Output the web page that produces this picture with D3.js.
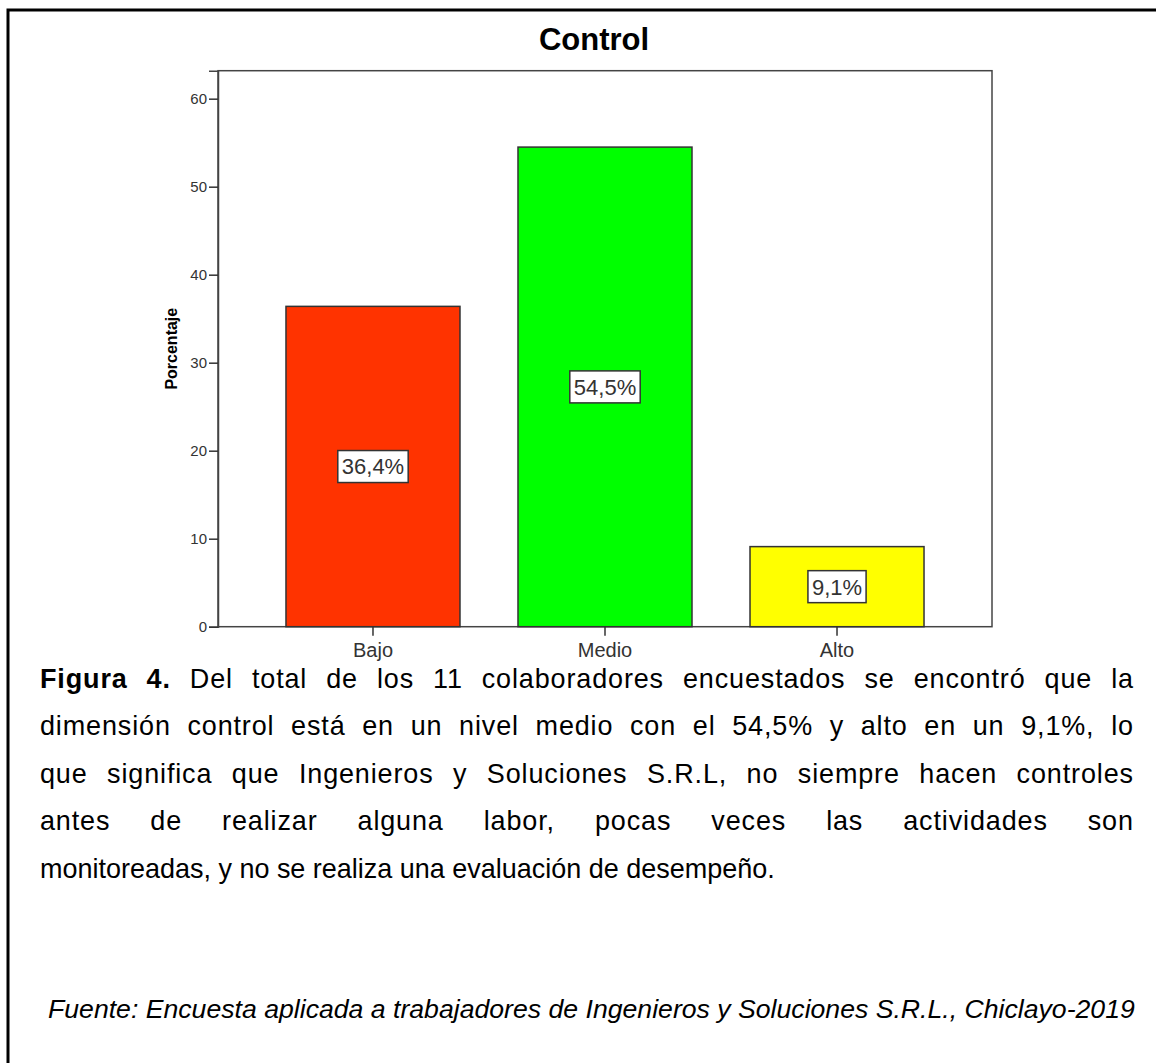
<!DOCTYPE html>
<html><head><meta charset="utf-8">
<script src="https://cdn.jsdelivr.net/npm/d3@7"></script>
<style>
html,body{margin:0;padding:0;background:#fff;}
svg{display:block;}
text{font-family:"Liberation Sans",Arial,sans-serif;}
</style></head>
<body>
<script>
const categories = ["Bajo", "Medio", "Alto"];
const values = [36.4, 54.5, 9.1];
const valueLabels = ["36,4%", "54,5%", "9,1%"];
const barColors = ["#FF3300", "#00FF00", "#FFFF00"];
const yTicks = [0, 10, 20, 30, 40, 50, 60];
const chartTitle = "Control";
const yTitle = "Porcentaje";
const captionLines = [
  [{b:true,t:"Figura 4."},{b:false,t:" Del total de los 11 colaboradores encuestados se encontró que la"}],
  [{b:false,t:"dimensión control está en un nivel medio con el 54,5% y alto en un 9,1%, lo"}],
  [{b:false,t:"que significa que Ingenieros y Soluciones S.R.L, no siempre hacen controles"}],
  [{b:false,t:"antes de realizar alguna labor, pocas veces las actividades son"}],
  [{b:false,t:"monitoreadas, y no se realiza una evaluación de desempeño."}]
];
const sourceText = "Fuente: Encuesta aplicada a trabajadores de Ingenieros y Soluciones S.R.L., Chiclayo-2019";

const W = 1156, H = 1063;
const svg = d3.select("body").append("svg").attr("width", W).attr("height", H);

// outer page border (top + left visible)
svg.append("path").attr("d", "M8,1063 L8,10 L1160,10")
  .attr("fill", "none").attr("stroke", "#000").attr("stroke-width", 3);

const plot = {l: 218, r: 992, t: 70.7, b: 626.7};
const x = d3.scaleBand().domain(categories).range([plot.l, plot.r])
  .paddingInner(0.25).paddingOuter(0.293);
const y = d3.scaleLinear().domain([0, 63.18]).range([plot.b, plot.t]);

// frame
svg.append("rect").attr("x", plot.l).attr("y", plot.t)
  .attr("width", plot.r - plot.l).attr("height", plot.b - plot.t)
  .attr("fill", "none").attr("stroke", "#444").attr("stroke-width", 1.5);

// bars
svg.append("g").selectAll("rect").data(values).join("rect")
  .attr("x", (d, i) => x(categories[i]))
  .attr("y", d => y(d))
  .attr("width", x.bandwidth())
  .attr("height", d => y(0) - y(d))
  .attr("fill", (d, i) => barColors[i])
  .attr("stroke", "#333").attr("stroke-width", 1.5);

// y axis
const yAxis = svg.append("g").attr("transform", `translate(${plot.l},0)`)
  .call(d3.axisLeft(y).tickValues(yTicks).tickSize(9).tickPadding(2).tickFormat(d3.format("d")));
yAxis.select(".domain").attr("stroke", "#444").attr("stroke-width", 1.5);
yAxis.selectAll(".tick line").attr("stroke", "#333").attr("stroke-width", 1.5);
yAxis.selectAll(".tick text").attr("font-size", 15).attr("fill", "#333")
  .attr("font-family", "'Liberation Sans', Arial, sans-serif");

// x axis
const xAxis = svg.append("g").attr("transform", `translate(0,${plot.b})`)
  .call(d3.axisBottom(x).tickSize(9).tickPadding(7));
xAxis.select(".domain").remove();
xAxis.selectAll(".tick line").attr("stroke", "#333").attr("stroke-width", 1.5);
xAxis.selectAll(".tick text").attr("font-size", 20).attr("fill", "#333")
  .attr("font-family", "'Liberation Sans', Arial, sans-serif");

// value labels
const lab = svg.append("g").selectAll("g").data(values).join("g")
  .attr("transform", (d, i) => `translate(${x(categories[i]) + x.bandwidth() / 2},${(y(d) + y(0)) / 2})`);
lab.append("rect").attr("class", "box");
lab.append("text").text((d, i) => valueLabels[i])
  .attr("text-anchor", "middle").attr("dy", "0.36em")
  .attr("font-size", 22).attr("fill", "#333");
lab.each(function () {
  const g = d3.select(this);
  const bb = g.select("text").node().getBBox();
  g.select("rect.box").attr("x", -bb.width / 2 - 4).attr("y", -16)
    .attr("width", bb.width + 8).attr("height", 32)
    .attr("fill", "#fff").attr("stroke", "#333").attr("stroke-width", 1.5);
});

// title
svg.append("text").text(chartTitle).attr("x", 594).attr("y", 50)
  .attr("text-anchor", "middle").attr("font-size", 31).attr("font-weight", "bold").attr("fill", "#000");

// y title
svg.append("text").text(yTitle)
  .attr("transform", `translate(177,${(plot.t + plot.b) / 2}) rotate(-90)`)
  .attr("text-anchor", "middle").attr("font-size", 16).attr("font-weight", "bold").attr("fill", "#000");

// caption
const capX = 40, capRight = 1133, baselines = [688, 735, 783, 830, 878];
const fs = 28;
const capTexts = captionLines.map((parts, i) => {
  const t = svg.append("text").attr("x", 0).attr("y", 0).attr("font-size", fs).attr("fill", "#000")
    .attr("xml:space", "preserve");
  parts.forEach(p => t.append("tspan").text(p.t).attr("font-weight", p.b ? "bold" : "normal"));
  return t;
});
// horizontal condensation from the last (unjustified) line
const lastW = capTexts[4].node().getComputedTextLength();
const sx = 735 / lastW;
capTexts.forEach((t, i) => {
  t.attr("transform", `translate(${capX},${baselines[i]}) scale(${sx},1)`);
  if (i < 4) {
    const full = captionLines[i].map(p => p.t).join("");
    const nSpaces = (full.match(/ /g) || []).length;
    const nChars = full.length - 1;
    const nat = t.node().getComputedTextLength();
    const extra = (capRight - capX) / sx - nat;
    const ls = Math.min(0.9, (extra * 0.5) / nChars);
    const ws = (extra - ls * nChars) / nSpaces;
    t.attr("letter-spacing", ls).attr("word-spacing", ws);
  }
});

// source
const src = svg.append("text").text(sourceText).attr("font-size", 25).attr("font-style", "italic").attr("fill", "#000");
const sw = src.node().getComputedTextLength();
src.attr("transform", `translate(48,1018) scale(${(1135 - 48) / sw},1)`);
</script>
</body></html>
